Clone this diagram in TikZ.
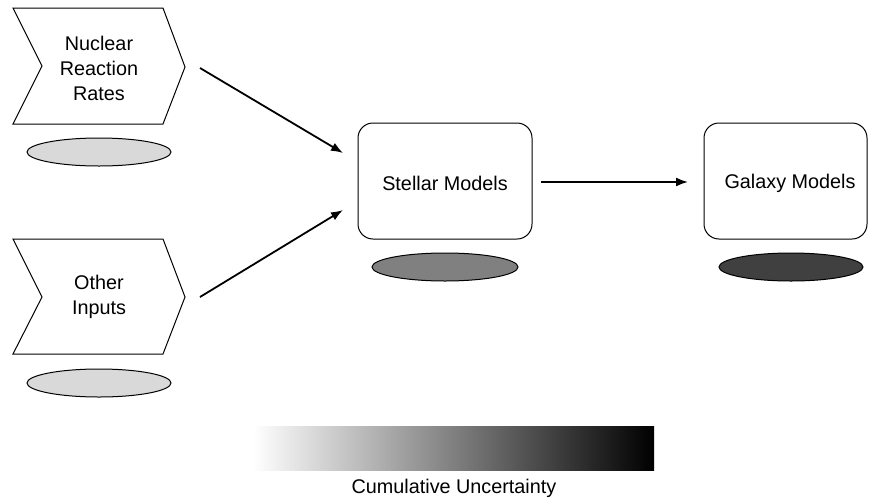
\documentclass[tikz,border=0pt]{standalone}
\usepackage{fontspec}
\setmainfont{Liberation Sans}
\usetikzlibrary{arrows.meta}
\begin{document}
\begin{tikzpicture}[x=1pt,y=-1pt,
  txt/.style={font=\fontsize{19.8}{25}\selectfont, align=center, inner sep=0pt},
  box/.style={draw=black, line width=1pt, rounded corners=15pt, fill=white},
  blob/.style={draw=black, line width=1pt},
  conn/.style={line width=1.8pt, -{Latex[length=12pt,width=9pt]}}]
\useasboundingbox (0,0) rectangle (869,498);
% chevrons
\draw[line width=1pt] (13,8) -- (163,8) -- (185,67) -- (163,124) -- (13,124) -- (42,66) -- cycle;
\node[txt] (nrr) at (99,68) {Nuclear\\Reaction\\Rates};
\draw[line width=1pt] (13,239) -- (163,239) -- (185,297) -- (163,354) -- (13,354) -- (42,297) -- cycle;
\node[txt] (oi) at (99,297) {Other\\Inputs};
\coordinate (c1) at (200,68);
\coordinate (c2) at (200,297);
% ellipses under chevrons
\draw[blob, fill=black!15] (99,152) ellipse (72 and 14);
\draw[blob, fill=black!15] (99,383) ellipse (72 and 14);
% boxes
\draw[box] (358,123) rectangle (532,239);
\node[txt] (sm) at (445,183) {Stellar Models};
\draw[box] (704,123) rectangle (867,239);
\node[txt] (gm) at (790,183) {Galaxy Models};
\coordinate (s1) at (343,153);
\coordinate (s2) at (343,210);
\coordinate (s3) at (541,182);
\coordinate (g1) at (688,182);
\draw[blob, fill=black!50] (445,267) ellipse (73 and 14);
\draw[blob, fill=black!75] (791,267) ellipse (72 and 14);
% arrows
\draw[conn] (c1) -- (s1);
\draw[conn] (c2) -- (s2);
\draw[conn] (s3) -- (g1);
% gradient
\shade[left color=white, right color=black] (253,426) rectangle (654,470);
\node[txt] (cu) at (454,488) {Cumulative Uncertainty};
\end{tikzpicture}
\end{document}
